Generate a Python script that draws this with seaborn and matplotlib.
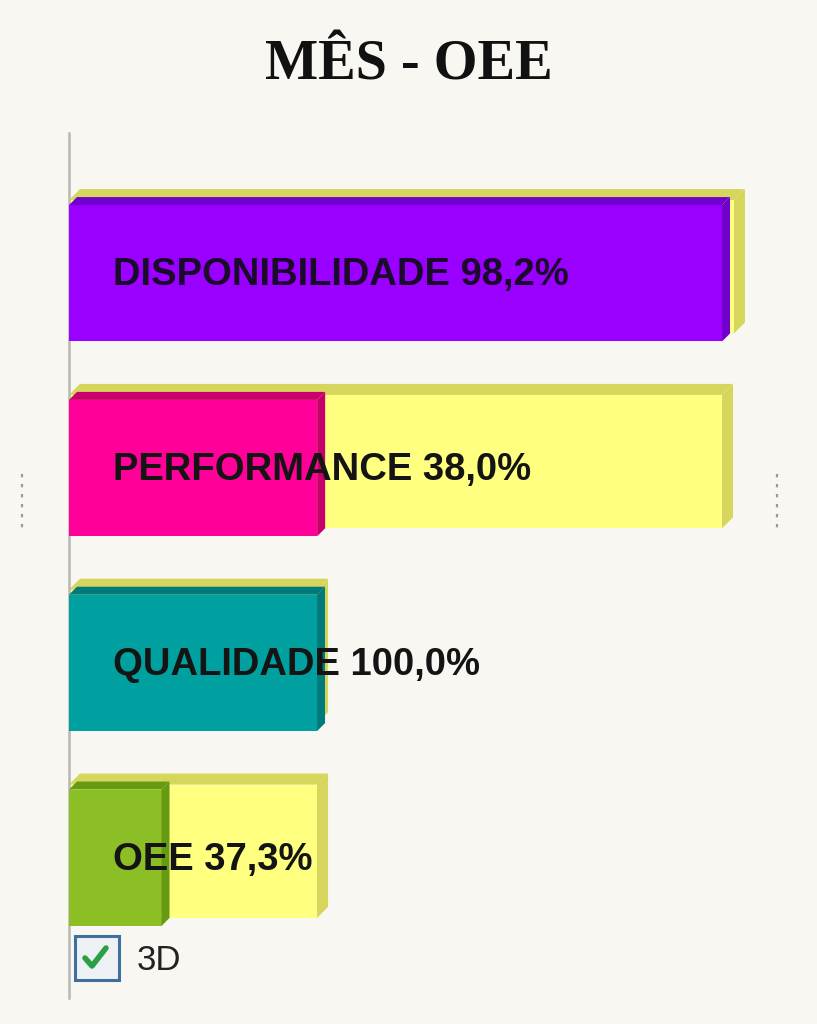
import matplotlib
matplotlib.use("Agg")
import matplotlib.pyplot as plt
import seaborn as sns
import pandas as pd
from matplotlib.patches import Polygon, Rectangle
from matplotlib.lines import Line2D

# dados do gráfico
categorias = ["DISPONIBILIDADE", "PERFORMANCE", "QUALIDADE", "OEE"]
percentuais = [98.2, 38.0, 100.0, 37.3]
base = [100.0, 98.2, 37.3, 37.3]          # comprimento da barra amarela (referência)
cores = ["#9900ff", "#ff0099", "#00a0a0", "#8cbf26"]
cores_lado = ["#7000cc", "#c8006e", "#007a7a", "#669a12"]
amarelo, amarelo_lado = "#ffff80", "#d6d65c"
fundo = "#f9f7f2"

df = pd.DataFrame({"cat": categorias, "pct": percentuais, "base": base})
df["valor"] = df["base"] * df["pct"] / 100

sns.set_style("white")
plt.rcParams["font.family"] = ["Liberation Sans", "DejaVu Sans"]

W, H = 817, 1024
fig = plt.figure(figsize=(W / 100, H / 100), dpi=100, facecolor=fundo)
ax_l, ax_r, ax_t, ax_b = 69, 817, 133, 998
ax = fig.add_axes([ax_l / W, 1 - ax_b / H, (ax_r - ax_l) / W, (ax_b - ax_t) / H])
ax.set_facecolor(fundo)

px_x = 6.65                         # pixels por unidade no eixo x
xmax = (ax_r - ax_l) / px_x
ylim = (3.72, -0.72)
px_y = (ax_b - ax_t) / (ylim[0] - ylim[1])

largura = 0.70
sns.barplot(data=df, x="base", y="cat", orient="h", color=amarelo,
            width=largura, saturation=1, ax=ax)
n = len(ax.patches)
sns.barplot(data=df, x="valor", y="cat", hue="cat", palette=cores, orient="h",
            width=largura, saturation=1, legend=False, ax=ax)

ax.set_xlim(0, xmax)
ax.set_ylim(*ylim)

amarelas = ax.patches[:n]
coloridas = ax.patches[n:]


def profundidade(p, cor, prof_px):
    dx, dy = prof_px / px_x, prof_px / px_y
    x0, x1 = p.get_x(), p.get_x() + p.get_width()
    yt, yb = p.get_y(), p.get_y() + p.get_height()
    topo = Polygon([(x0, yt), (x0 + dx, yt - dy), (x1 + dx, yt - dy), (x1, yt)],
                   closed=True, facecolor=cor, edgecolor="none",
                   zorder=p.get_zorder())
    lado = Polygon([(x1, yt), (x1 + dx, yt - dy), (x1 + dx, yb - dy), (x1, yb)],
                   closed=True, facecolor=cor, edgecolor="none",
                   zorder=p.get_zorder())
    ax.add_patch(topo)
    ax.add_patch(lado)


for p in amarelas:
    p.set_y(p.get_y() - 5 / px_y)
    p.set_height(p.get_height() - 3 / px_y)
    p.set_edgecolor("none")
    p.set_zorder(2)
    profundidade(p, amarelo_lado, 11)

for p, cl in zip(coloridas, cores_lado):
    p.set_edgecolor("none")
    p.set_zorder(3)
    profundidade(p, cl, 8)

# rótulos
cor_texto = ["#1c0a2c", "#141414", "#141414", "#141414"]
for i, row in df.iterrows():
    txt = f"{row['cat']} {row['pct']:.1f}%".replace(".", ",")
    ax.text(6.6, i + 2 / px_y, txt, ha="left", va="center", fontsize=27.5,
            fontweight="bold", color=cor_texto[i], zorder=5,
            family=["Liberation Sans", "DejaVu Sans"])

for s in ["top", "right", "bottom"]:
    ax.spines[s].set_visible(False)
ax.spines["left"].set_color("#b8b8b8")
ax.spines["left"].set_linewidth(1.8)
ax.set_xticks([])
ax.set_yticks([])
ax.set_xlabel("")
ax.set_ylabel("")

# título
fig.text(409 / W, 1 - 66 / H, "MÊS - OEE", ha="center", va="center",
         fontsize=40.5, fontweight="bold", color="#111111",
         family=["Liberation Serif", "DejaVu Serif"])

# caixa de seleção "3D"
fig.add_artist(Rectangle((75 / W, 1 - 980 / H), 44 / W, 44 / H,
                         transform=fig.transFigure, facecolor="#eef1f4",
                         edgecolor="#3f6f9f", linewidth=2.2))
fig.add_artist(Line2D([85 / W, 92 / W, 106 / W], [1 - 958 / H, 1 - 966 / H, 1 - 948 / H],
                      transform=fig.transFigure, color="#2aa046", linewidth=4,
                      solid_capstyle="round", solid_joinstyle="round"))
fig.text(137 / W, 1 - 961 / H, "3D", ha="left", va="center", fontsize=25,
         color="#222222", family=["Liberation Sans", "DejaVu Sans"])

# marcadores laterais pontilhados
for xp in (22, 777):
    fig.add_artist(Line2D([xp / W, xp / W], [1 - 474 / H, 1 - 534 / H],
                          transform=fig.transFigure, color="#9a9a9a",
                          linewidth=1.6, linestyle=(0, (1.5, 3))))

fig.savefig("out.png", dpi=100, facecolor=fundo)
